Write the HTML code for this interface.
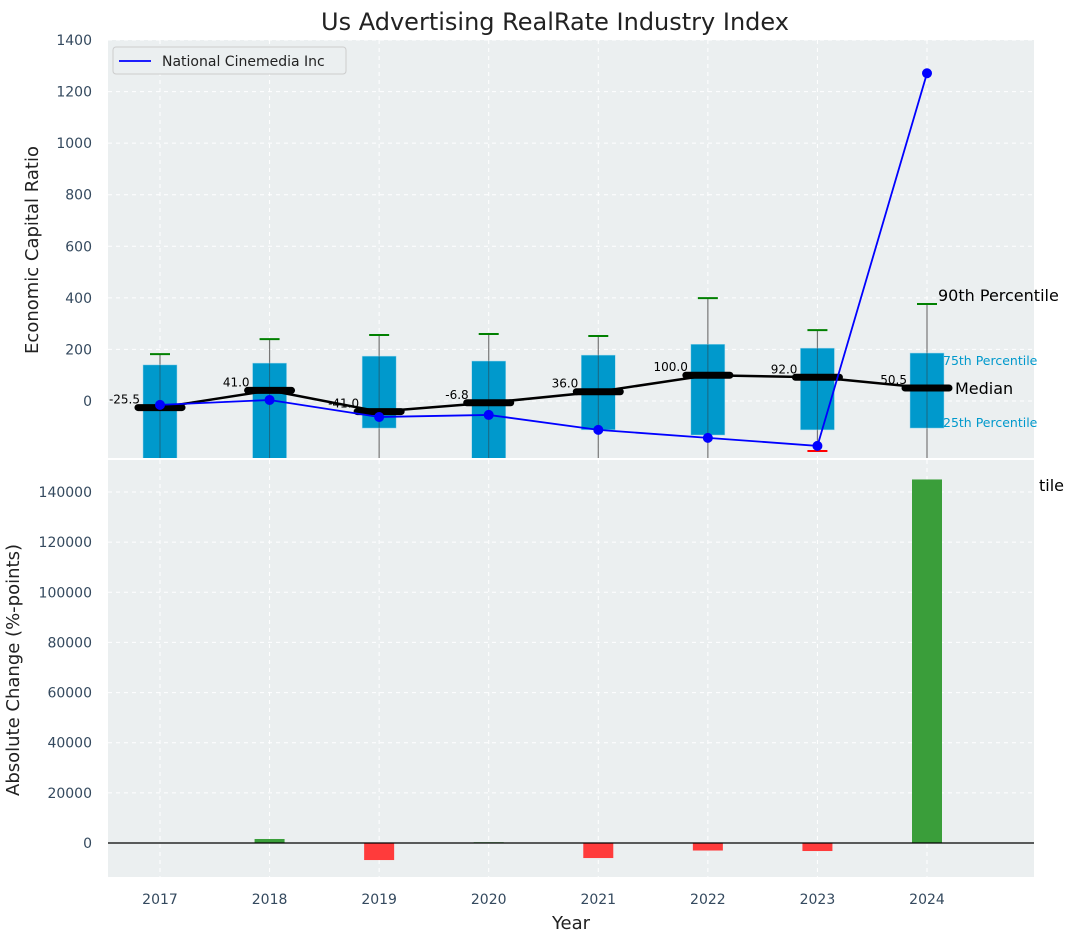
<!DOCTYPE html>
<html><head><meta charset="utf-8">
<style>
html,body{margin:0;padding:0;background:#fff;}
svg{display:block;font-family:"DejaVu Sans","Liberation Sans",sans-serif;}
</style></head>
<body>
<svg id="chart" width="1073" height="942" viewBox="0 0 1073 942" xmlns="http://www.w3.org/2000/svg"></svg>
<script>
const years = [2017,2018,2019,2020,2021,2022,2023,2024];
const p25 = [-260,-260,-105,-260,-112,-132,-112,-105];
const p75 = [140,147,174,155,178,220,205,186];
const p90 = [182,240,256,260,252,399,275,376];
const p10 = [-400,-400,-400,-400,-400,-400,-194,-400];
const medians = [-25.5,41.0,-41.0,-6.8,36.0,100.0,92.0,50.5];
const company = [-15,4,-62,-54,-112,-143,-174,1271];
const changes = [0,1600,-6800,300,-6000,-3000,-3200,145000];
const topTicks = [0,200,400,600,800,1000,1200,1400];
const botTicks = [0,20000,40000,60000,80000,100000,120000,140000];

const svg = document.getElementById('chart');
const NS = 'http://www.w3.org/2000/svg';
function mk(tag, attrs, parent){const e=document.createElementNS(NS,tag);for(const k in attrs)e.setAttribute(k,attrs[k]);(parent||svg).appendChild(e);return e;}

const L=108,R=1034;
const x = v => 160 + (v-2017)*(927-160)/7;
const T0=40,T1=458; const yT = v => 401 - v*(401-40)/1400;
const B0=460,B1=877; const yB = v => 843 - v*(843-492)/140000;

let t=mk('text',{x:555,y:30,'text-anchor':'middle','font-size':24,fill:'#222'});t.textContent='Us Advertising RealRate Industry Index';


let bg=mk('rect',{x:L,y:T0,width:R-L,height:T1-T0,fill:'#ebeff0'});

let bg2=mk('rect',{x:L,y:B0,width:R-L,height:B1-B0,fill:'#ebeff0'});


const defs=mk('defs',{});
const c1=mk('clipPath',{id:'ct'},defs);mk('rect',{x:L,y:T0,width:R-L,height:T1-T0},c1);
const c2=mk('clipPath',{id:'cb'},defs);mk('rect',{x:L,y:B0,width:R-L,height:B1-B0},c2);
const gT=mk('g',{'clip-path':'url(#ct)'});

const gB=mk('g',{'clip-path':'url(#cb)'});


years.forEach(v=>{
  mk('line',{x1:x(v),x2:x(v),y1:T0,y2:T1,stroke:'#fff','stroke-dasharray':'4,4','stroke-width':1},gT);
  mk('line',{x1:x(v),x2:x(v),y1:B0,y2:B1,stroke:'#fff','stroke-dasharray':'4,4','stroke-width':1},gB);
});
topTicks.forEach(v=>{
  mk('line',{x1:L,x2:R,y1:yT(v),y2:yT(v),stroke:'#fff','stroke-dasharray':'4,4'},gT);
  let tl=mk('text',{x:L-16,y:yT(v)+5,'text-anchor':'end','font-size':14,fill:'#34495e'});tl.textContent=v;
  
});
botTicks.forEach(v=>{
  mk('line',{x1:L,x2:R,y1:yB(v),y2:yB(v),stroke:'#fff','stroke-dasharray':'4,4'},gB);
  let tl=mk('text',{x:L-16,y:yB(v)+5,'text-anchor':'end','font-size':14,fill:'#34495e'});tl.textContent=v;
  
});

years.forEach((yr,i)=>{
  const cx=x(yr);
  let w=mk('line',{x1:cx,x2:cx,y1:yT(p90[i]),y2:yT(p10[i]),stroke:'#777','stroke-width':1.2},gT);
  
  let b=mk('rect',{x:cx-17,y:yT(p75[i]),width:34,height:yT(p25[i])-yT(p75[i]),fill:'#0099cc',stroke:'#a0d8ec','stroke-width':0.5},gT);
  
  mk('line',{x1:cx,x2:cx,y1:yT(p75[i]),y2:yT(p25[i]),stroke:'#333','stroke-opacity':0.5,'stroke-width':1},gT);
  let c=mk('line',{x1:cx-10,x2:cx+10,y1:yT(p90[i]),y2:yT(p90[i]),stroke:'green','stroke-width':2},gT);
  
  if(p10[i]>-221){let r=mk('line',{x1:cx-10,x2:cx+10,y1:yT(p10[i]),y2:yT(p10[i]),stroke:'red','stroke-width':2},gT);
  }
});
let ml=mk('polyline',{points:years.map((yr,i)=>x(yr)+','+yT(medians[i])).join(' '),fill:'none',stroke:'#000','stroke-width':2.5},gT);

years.forEach((yr,i)=>{
  let m=mk('line',{x1:x(yr)-22,x2:x(yr)+22,y1:yT(medians[i]),y2:yT(medians[i]),stroke:'#000','stroke-width':7,'stroke-linecap':'round'},gT);
  
  let lb=mk('text',{x:x(yr)-20,y:yT(medians[i])-4,'text-anchor':'end','font-size':12,fill:'#000'},gT);lb.textContent=medians[i].toFixed(1);
  
});
let cl=mk('polyline',{points:years.map((yr,i)=>x(yr)+','+yT(company[i])).join(' '),fill:'none',stroke:'blue','stroke-width':1.8},gT);

years.forEach((yr,i)=>{let p=mk('circle',{cx:x(yr),cy:yT(company[i]),r:5,fill:'blue'},gT);
});

const ax=x(2024);
[['90th Percentile',ax+11,yT(p90[7])-3,16,'#000'],['75th Percentile',ax+16,yT(p75[7])+12,12.5,'#0099cc'],['Median',ax+28,yT(medians[7])+6,16,'#000'],['25th Percentile',ax+16,yT(p25[7])-1,12.5,'#0099cc']].forEach(a=>{
  let e=mk('text',{x:a[1],y:a[2],'font-size':a[3],fill:a[4]});e.textContent=a[0];
  
});
let tl2=mk('text',{x:1064,y:491,'font-size':16,fill:'#000','text-anchor':'end'});tl2.textContent='tile';


const lg=mk('g',{});
mk('rect',{x:113,y:47,width:233,height:27,rx:3,fill:'#ebeff0',stroke:'#ccc'},lg);
mk('line',{x1:119,x2:151,y1:61,y2:61,stroke:'blue','stroke-width':1.8},lg);
let lt=mk('text',{x:162,y:66,'font-size':14,fill:'#222'},lg);lt.textContent='National Cinemedia Inc';

years.forEach((yr,i)=>{
  const v=changes[i];const y0=yB(0),y1=yB(v);
  let b=mk('rect',{x:x(yr)-15,y:Math.min(y0,y1),width:30,height:Math.abs(y1-y0),fill:v>=0?'#3a9e3a':'#ff3b3b'},gB);
  
});
mk('line',{x1:L,x2:R,y1:yB(0),y2:yB(0),stroke:'#000','stroke-width':1.2},gB);

years.forEach(yr=>{let e=mk('text',{x:x(yr),y:904,'text-anchor':'middle','font-size':14,fill:'#34495e'});e.textContent=yr;
});

let xt=mk('text',{x:571,y:929,'text-anchor':'middle','font-size':18,fill:'#222'});xt.textContent='Year';

let yt1=mk('text',{x:0,y:0,'text-anchor':'middle','font-size':18,fill:'#222',transform:'translate(38,250) rotate(-90)'});yt1.textContent='Economic Capital Ratio';

let yt2=mk('text',{x:0,y:0,'text-anchor':'middle','font-size':18,fill:'#222',transform:'translate(19,670) rotate(-90)'});yt2.textContent='Absolute Change (%-points)';

</script>
</body></html>
